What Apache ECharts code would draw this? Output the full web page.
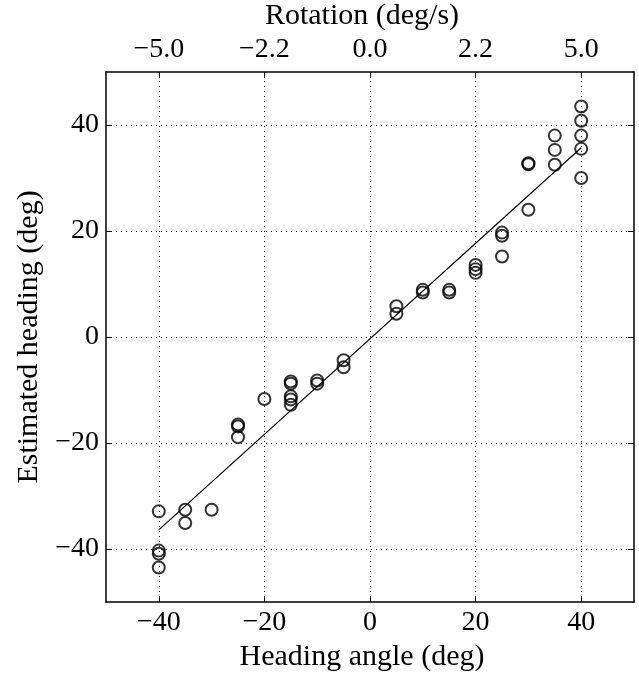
<!DOCTYPE html>
<html><head><meta charset="utf-8">
<script src="https://cdn.jsdelivr.net/npm/echarts@6/dist/echarts.min.js"></script>
<style>html,body{margin:0;padding:0;background:#fff}#c{width:639px;height:673px}</style>
</head><body><div id="c"></div>
<script>
// Data
const headingAngle = [-40,-40,-40,-40,-35,-35,-30,-25,-25,-25,-20,-15,-15,-15,-15,-15,-10,-10,-5,-5,5,5,10,10,15,15,20,20,20,25,25,25,30,30,30,35,35,35,40,40,40,40,40];
const estimatedHeading = [-32.9,-40.3,-40.9,-43.5,-32.6,-35.1,-32.6,-16.5,-16.9,-18.9,-11.7,-8.4,-8.8,-11.2,-11.8,-12.8,-8.2,-8.8,-4.4,-5.7,5.8,4.4,8.9,8.4,8.9,8.4,13.6,12.8,12.1,19.7,19.1,15.2,32.6,32.8,24.0,38.0,35.3,32.5,43.5,40.8,38.0,35.5,30.0];
const fitX = [-40, 40];
const fitY = [-36.4, 35.7];
const bottomTicks = [-40,-20,0,20,40];
const topTickLabels = ['\u22125.0','\u22122.2','0.0','2.2','5.0'];
const leftTicks = [-40,-20,0,20,40];

const fmt = v => (v < 0 ? '\u2212' + Math.abs(v) : String(v));
const font = 'Liberation Serif';
const gridLine = {color:'#000', width:1, type:[1,4]};

const chart = echarts.init(document.getElementById('c'));
chart.setOption({
  animation:false,
  backgroundColor:'#fff',
  grid:{left:106,right:5,top:72,bottom:71,show:false,containLabel:false,outerBoundsMode:'none'},
  xAxis:[{
    type:'value',position:'bottom',min:-50,max:50,
    name:'Heading angle (deg)',nameLocation:'middle',nameGap:34,
    nameTextStyle:{fontFamily:font,fontSize:30,color:'#000',padding:[0,16,0,0]},
    axisLine:{show:true,onZero:false,lineStyle:{color:'#000',width:1.5}},
    axisTick:{show:true,inside:true,length:6,customValues:bottomTicks,lineStyle:{color:'#000'}},
    axisLabel:{customValues:bottomTicks,formatter:fmt,fontFamily:font,fontSize:28,color:'#000',margin:7},
    splitLine:{show:false}
  },{
    type:'value',position:'top',min:-50,max:50,
    name:'Rotation (deg/s)',nameLocation:'middle',nameGap:31,
    nameTextStyle:{fontFamily:font,fontSize:30,color:'#000',padding:[0,16,0,0]},
    axisLine:{show:true,onZero:false,lineStyle:{color:'#000',width:1.5}},
    axisTick:{show:true,inside:true,length:6,customValues:bottomTicks,lineStyle:{color:'#000'}},
    axisLabel:{customValues:bottomTicks,formatter:v=>topTickLabels[bottomTicks.indexOf(v)],fontFamily:font,fontSize:28,color:'#000',margin:8},
    splitLine:{show:false}
  }],
  yAxis:[{
    type:'value',position:'left',min:-50,max:50,
    name:'Estimated heading (deg)',nameLocation:'middle',nameGap:57,
    nameTextStyle:{fontFamily:font,fontSize:30,color:'#000'},
    axisLine:{show:true,onZero:false,lineStyle:{color:'#000',width:1.5}},
    axisTick:{show:true,inside:true,length:6,customValues:leftTicks,lineStyle:{color:'#000'}},
    axisLabel:{customValues:leftTicks,formatter:fmt,fontFamily:font,fontSize:28,color:'#000',margin:7},
    splitLine:{show:false}
  },{
    type:'value',position:'right',min:-50,max:50,
    axisLine:{show:true,onZero:false,lineStyle:{color:'#000',width:1.5}},
    axisTick:{show:true,inside:true,length:6,customValues:leftTicks,lineStyle:{color:'#000'}},
    axisLabel:{show:false},
    splitLine:{show:false}
  }],
  series:[{
    type:'line',xAxisIndex:0,yAxisIndex:0,
    data:fitX.map((x,i)=>[x,fitY[i]]),
    symbol:'none',lineStyle:{color:'#000',width:1.2},silent:true,z:3,
    markLine:{
      silent:true,symbol:'none',label:{show:false},
      lineStyle:gridLine,
      data:[...bottomTicks.map(v=>({xAxis:v})),...leftTicks.map(v=>({yAxis:v}))]
    }
  },{
    type:'scatter',xAxisIndex:0,yAxisIndex:0,
    data:headingAngle.map((x,i)=>[x,estimatedHeading[i]]),
    symbol:'circle',symbolSize:12,
    itemStyle:{color:'rgba(0,0,0,0)',borderColor:'#000',borderWidth:2},z:4
  }]
});
</script></body></html>
